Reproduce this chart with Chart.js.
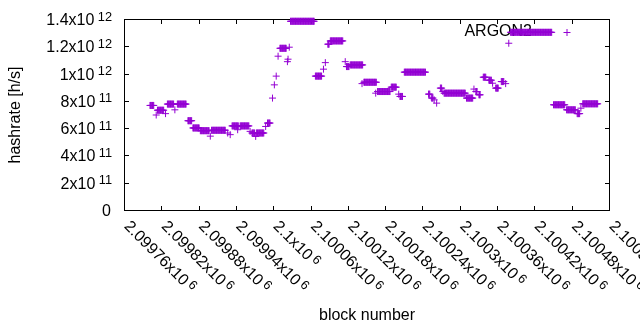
<!DOCTYPE html>
<html>
<head>
<meta charset="utf-8">
<style>
  html, body { margin: 0; padding: 0; background: #fff; }
</style>
<script src="https://cdn.jsdelivr.net/npm/chart.js@4.4.0/dist/chart.umd.min.js"></script>
</head>
<body>
<canvas id="hashChart" width="640" height="330"></canvas>
<script>
// block numbers are stored as offsets from the first x tick
const firstBlock = 2099760;
const blockOffsets = [
  41, 42, 43, 44, 45, 46, 47,
  51,
  53, 54, 55, 56, 57, 58, 59, 60, 61, 62, 63,
  66,
  69, 70, 71, 72, 73, 74, 75, 76, 77, 78, 79,
  81,
  85, 86, 87, 88, 89, 90, 91, 92, 93, 94, 95, 96, 97, 98, 99,
  102, 103, 104, 105, 106, 107, 108,
  110, 111, 112, 113, 114, 115, 116, 117, 118, 119, 120,
  122, 123, 124, 125, 126, 127, 128, 129, 130, 131, 132, 133, 134, 135, 136,
  138,
  140, 141, 142, 143, 144, 145, 146, 147, 148, 149,
  150, 151, 152, 153, 154, 155, 156, 157, 158, 159,
  160, 161, 162,
  166,
  170,
  173, 174, 175, 176, 177, 178, 179, 180, 181, 182, 183,
  182,
  186, 187, 188, 189, 190, 191, 192, 193, 194, 195, 196, 197, 198, 199, 200,
  202,
  205, 206, 207, 208, 209,
  211,
  212, 213, 214, 215, 216, 217, 218, 219, 220, 221, 222, 223, 224,
  227,
  230, 231, 232, 233, 234,
  238, 241, 244, 247,
  250, 251, 252, 253, 254, 255, 256, 257, 258, 259, 260,
  262, 263, 265,
  267, 268, 269, 270, 271, 272, 273, 274, 275, 276,
  277, 278, 279, 280, 281, 282, 283, 284, 285, 286,
  287, 288, 289, 290, 291, 292, 293, 294, 295, 296,
  297, 298, 299, 300, 301, 302, 303, 304, 305,
  307, 308, 309, 310, 311, 312, 313, 314, 315, 316, 317,
  320, 323,
  327, 328, 329,
  331, 332, 333, 334, 335, 336, 337, 338, 339, 340,
  341, 342, 343, 344, 345, 346, 347, 348, 349, 350, 351,
  355,
  357, 358, 359, 360, 361,
  363, 364, 365, 366, 367, 368, 369, 370, 371, 372,
  373, 374, 375, 376, 377, 378, 379, 380, 381, 382, 383,
  382,
  385, 386, 387, 388, 389, 390, 391, 392, 393, 394,
  395, 396, 397, 398, 399, 400, 401, 402, 403, 404, 405,
  404,
  407, 408, 409, 410, 411, 412, 413, 414, 415, 416,
  417, 418, 419, 420, 421, 422, 423, 424, 425, 426, 427,
  429, 430, 431, 432, 433, 434, 435, 436, 437,
  441,
  443, 444, 445, 446, 447,
  450, 451, 452, 453, 454, 455, 456, 457, 458, 459,
  460, 461, 462, 463, 464, 465, 466, 467, 468, 469,
  470, 471, 472, 473, 474, 475, 476, 477, 478, 479,
  480, 481, 482, 483, 484,
  489, 490, 491,
  494, 495, 496,
  498, 502,
  508, 509, 510,
  512,
  514, 515, 516, 517, 518, 519, 520, 521, 522, 523,
  524, 525, 526, 527, 528, 529, 530, 531, 532, 533,
  534, 535, 536, 537, 538, 539, 540, 541, 542, 543,
  544, 545, 546, 547, 548,
  550, 551, 552, 553, 554, 555, 556, 557, 558, 559, 560,
  562,
  565, 566, 567,
  570, 571, 572,
  577, 578, 579, 580, 581,
  586, 587, 588, 589, 590,
  592,
  597, 598, 599, 600, 601,
  606, 607, 608, 609, 610,
  613, 618,
  621, 622, 623, 624, 625, 626, 627, 628, 629, 630,
  631, 632, 633, 634, 635, 636, 637, 638, 639, 640,
  641, 642, 643, 644, 645, 646, 647, 648, 649, 650,
  651, 652, 653, 654, 655, 656, 657, 658, 659, 660,
  661, 662, 663, 664, 665, 666, 667, 668, 669, 670,
  671, 672, 673, 674, 675, 676, 677, 678, 679, 680,
  681, 682, 683, 684, 685, 686, 687,
  690, 691, 692, 693, 694, 695, 696, 697, 698, 699,
  700, 701, 702, 703, 704, 705, 706, 707, 708,
  711, 712, 713, 714, 715, 716, 717, 718, 719, 720,
  721, 722, 723, 724, 725,
  728, 729, 730, 731, 732,
  734,
  737, 738, 739, 740, 741, 742, 743, 744, 745, 746,
  747, 748, 749, 750, 751, 752, 753, 754, 755, 756,
  757, 758, 759, 760, 761
];

// hashrate in units of 1e11 h/s, one per block above
const hashrate11 = [
  7.70, 7.70, 7.70, 7.70, 7.70, 7.70, 7.70,
  7.00,
  7.35, 7.35, 7.35, 7.35, 7.35, 7.35, 7.35, 7.35, 7.35, 7.35, 7.35,
  7.10,
  7.80, 7.80, 7.80, 7.80, 7.80, 7.80, 7.80, 7.80, 7.80, 7.80, 7.80,
  7.38,
  7.80, 7.80, 7.80, 7.80, 7.80, 7.80, 7.80, 7.80, 7.80, 7.80, 7.80, 7.80, 7.80, 7.80, 7.80,
  6.58, 6.58, 6.58, 6.58, 6.58, 6.58, 6.58,
  6.05, 6.05, 6.05, 6.05, 6.05, 6.05, 6.05, 6.05, 6.05, 6.05, 6.05,
  5.85, 5.85, 5.85, 5.85, 5.85, 5.85, 5.85, 5.85, 5.85, 5.85, 5.85, 5.85, 5.85, 5.85, 5.85,
  5.45,
  5.88, 5.88, 5.88, 5.88, 5.88, 5.88, 5.88, 5.88, 5.88, 5.88,
  5.88, 5.88, 5.88, 5.88, 5.88, 5.88, 5.88, 5.88, 5.88, 5.88,
  5.88, 5.88, 5.88,
  5.68,
  5.56,
  6.20, 6.20, 6.20, 6.20, 6.20, 6.20, 6.20, 6.20, 6.20, 6.20, 6.20,
  5.92,
  6.20, 6.20, 6.20, 6.20, 6.20, 6.20, 6.20, 6.20, 6.20, 6.20, 6.20, 6.20, 6.20, 6.20, 6.20,
  5.80,
  5.68, 5.68, 5.68, 5.68, 5.68,
  5.43,
  5.68, 5.68, 5.68, 5.68, 5.68, 5.68, 5.68, 5.68, 5.68, 5.68, 5.68, 5.68, 5.68,
  6.16,
  6.41, 6.41, 6.41, 6.41, 6.41,
  8.24, 9.21, 9.85, 11.31,
  11.89, 11.89, 11.89, 11.89, 11.89, 11.89, 11.89, 11.89, 11.89, 11.89, 11.89,
  10.91, 11.09, 11.97,
  13.87, 13.87, 13.87, 13.87, 13.87, 13.87, 13.87, 13.87, 13.87, 13.87,
  13.87, 13.87, 13.87, 13.87, 13.87, 13.87, 13.87, 13.87, 13.87, 13.87,
  13.87, 13.87, 13.87, 13.87, 13.87, 13.87, 13.87, 13.87, 13.87, 13.87,
  13.87, 13.87, 13.87, 13.87, 13.87, 13.87, 13.87, 13.87, 13.87,
  9.85, 9.85, 9.85, 9.85, 9.85, 9.85, 9.85, 9.85, 9.85, 9.85, 9.85,
  10.36, 10.84,
  12.19, 12.19, 12.19,
  12.43, 12.43, 12.43, 12.43, 12.43, 12.43, 12.43, 12.43, 12.43, 12.43,
  12.43, 12.43, 12.43, 12.43, 12.43, 12.43, 12.43, 12.43, 12.43, 12.43, 12.43,
  10.91,
  10.55, 10.55, 10.55, 10.55, 10.55,
  10.67, 10.67, 10.67, 10.67, 10.67, 10.67, 10.67, 10.67, 10.67, 10.67,
  10.67, 10.67, 10.67, 10.67, 10.67, 10.67, 10.67, 10.67, 10.67, 10.67, 10.67,
  9.30,
  9.40, 9.40, 9.40, 9.40, 9.40, 9.40, 9.40, 9.40, 9.40, 9.40,
  9.40, 9.40, 9.40, 9.40, 9.40, 9.40, 9.40, 9.40, 9.40, 9.40, 9.40,
  8.60,
  8.72, 8.72, 8.72, 8.72, 8.72, 8.72, 8.72, 8.72, 8.72, 8.72,
  8.72, 8.72, 8.72, 8.72, 8.72, 8.72, 8.72, 8.72, 8.72, 8.72, 8.72,
  9.04, 9.04, 9.04, 9.04, 9.04, 9.04, 9.04, 9.04, 9.04,
  8.53,
  8.36, 8.36, 8.36, 8.36, 8.36,
  10.14, 10.14, 10.14, 10.14, 10.14, 10.14, 10.14, 10.14, 10.14, 10.14,
  10.14, 10.14, 10.14, 10.14, 10.14, 10.14, 10.14, 10.14, 10.14, 10.14,
  10.14, 10.14, 10.14, 10.14, 10.14, 10.14, 10.14, 10.14, 10.14, 10.14,
  10.14, 10.14, 10.14, 10.14, 10.14,
  8.53, 8.53, 8.53,
  8.24, 8.24, 8.24,
  8.11, 7.87,
  8.97, 8.97, 8.97,
  8.72,
  8.60, 8.60, 8.60, 8.60, 8.60, 8.60, 8.60, 8.60, 8.60, 8.60,
  8.60, 8.60, 8.60, 8.60, 8.60, 8.60, 8.60, 8.60, 8.60, 8.60,
  8.60, 8.60, 8.60, 8.60, 8.60, 8.60, 8.60, 8.60, 8.60, 8.60,
  8.60, 8.60, 8.60, 8.60, 8.60,
  8.24, 8.24, 8.24, 8.24, 8.24, 8.24, 8.24, 8.24, 8.24, 8.24, 8.24,
  8.90,
  8.72, 8.72, 8.72,
  8.48, 8.48, 8.48,
  9.77, 9.77, 9.77, 9.77, 9.77,
  9.55, 9.55, 9.55, 9.55, 9.55,
  9.33,
  8.97, 8.97, 8.97, 8.97, 8.97,
  9.45, 9.45, 9.45, 9.45, 9.45,
  9.30, 12.26,
  13.06, 13.06, 13.06, 13.06, 13.06, 13.06, 13.06, 13.06, 13.06, 13.06,
  13.06, 13.06, 13.06, 13.06, 13.06, 13.06, 13.06, 13.06, 13.06, 13.06,
  13.06, 13.06, 13.06, 13.06, 13.06, 13.06, 13.06, 13.06, 13.06, 13.06,
  13.06, 13.06, 13.06, 13.06, 13.06, 13.06, 13.06, 13.06, 13.06, 13.06,
  13.06, 13.06, 13.06, 13.06, 13.06, 13.06, 13.06, 13.06, 13.06, 13.06,
  13.06, 13.06, 13.06, 13.06, 13.06, 13.06, 13.06, 13.06, 13.06, 13.06,
  13.06, 13.06, 13.06, 13.06, 13.06, 13.06, 13.06,
  7.75, 7.75, 7.75, 7.75, 7.75, 7.75, 7.75, 7.75, 7.75, 7.75,
  7.75, 7.75, 7.75, 7.75, 7.75, 7.75, 7.75, 7.75, 7.75,
  7.38, 7.38, 7.38, 7.38, 7.38, 7.38, 7.38, 7.38, 7.38, 7.38,
  7.38, 7.38, 7.38, 7.38, 7.38,
  7.10, 7.10, 7.10, 7.10, 7.10,
  7.50,
  7.82, 7.82, 7.82, 7.82, 7.82, 7.82, 7.82, 7.82, 7.82, 7.82,
  7.82, 7.82, 7.82, 7.82, 7.82, 7.82, 7.82, 7.82, 7.82, 7.82,
  7.82, 7.82, 7.82, 7.82, 7.82
];

// x ticks every 60 blocks, labels written as mantissa x10^6
const xTickValues = [2099760, 2099820, 2099880, 2099940, 2100000, 2100060, 2100120,
  2100180, 2100240, 2100300, 2100360, 2100420, 2100480, 2100540];
const xTickMantissas = ['2.09976', '2.09982', '2.09988', '2.09994', '2.1', '2.10006', '2.10012',
  '2.10018', '2.10024', '2.1003', '2.10036', '2.10042', '2.10048', '2.10054'];

const yTickValues = [0, 2e11, 4e11, 6e11, 8e11, 1e12, 1.2e12, 1.4e12];
const yTickMantissas = ['0', '2', '4', '6', '8', '1', '1.2', '1.4'];
const yTickExponents = ['', '11', '11', '11', '11', '12', '12', '12'];

const seriesName = 'ARGON2';
const purple = '#9400d3';
const FONT = '"Liberation Sans", Arial, sans-serif';
const big = '16px ' + FONT;
const small = '12.8px ' + FONT;

const points = blockOffsets.map((off, i) => ({ x: firstBlock + off, y: hashrate11[i] * 1e11 }));

// border, inward ticks, tick labels, axis titles and key, drawn gnuplot style
const gnuplotFrame = {
  id: 'gnuplotFrame',
  beforeDatasetsDraw(chart) {
    const { ctx, chartArea: a, scales: { x, y } } = chart;
    const snap = v => Math.round(v - 0.5) + 0.5;
    const tick = 4.5;
    ctx.save();
    ctx.strokeStyle = '#000';
    ctx.fillStyle = '#000';
    ctx.lineWidth = 1;
    ctx.strokeRect(a.left, a.top, a.right - a.left, a.bottom - a.top);

    ctx.beginPath();
    yTickValues.forEach(v => {
      const py = snap(y.getPixelForValue(v));
      ctx.moveTo(a.left, py); ctx.lineTo(a.left + tick, py);
      ctx.moveTo(a.right, py); ctx.lineTo(a.right - tick, py);
    });
    xTickValues.forEach(v => {
      const px = snap(x.getPixelForValue(v));
      ctx.moveTo(px, a.bottom); ctx.lineTo(px, a.bottom - tick);
      ctx.moveTo(px, a.top); ctx.lineTo(px, a.top + tick);
    });
    ctx.stroke();

    // y tick labels
    const yRight = 112;
    yTickValues.forEach((v, i) => {
      const py = y.getPixelForValue(v);
      ctx.textBaseline = 'alphabetic';
      const exp = yTickExponents[i];
      if (!exp) {
        ctx.font = big; ctx.textAlign = 'right';
        ctx.fillText(yTickMantissas[i], yRight - 1, py + 5.5);
        return;
      }
      ctx.font = small;
      const ew = ctx.measureText(exp).width;
      ctx.textAlign = 'left';
      ctx.fillText(exp, yRight - ew, py + 1);
      ctx.font = big; ctx.textAlign = 'right';
      ctx.fillText(yTickMantissas[i] + 'x10', yRight - ew - 3.4, py + 5.5);
    });

    // x tick labels, rotated 45 degrees down to the right
    xTickValues.forEach((v, i) => {
      const px = x.getPixelForValue(v);
      ctx.save();
      ctx.translate(px + 2, a.bottom + 13.5);
      ctx.rotate(Math.PI / 4);
      ctx.textAlign = 'left';
      ctx.textBaseline = 'middle';
      ctx.font = big;
      const txt = xTickMantissas[i] + 'x10';
      ctx.fillText(txt, 0, 0);
      const w = ctx.measureText(txt).width;
      ctx.font = small;
      ctx.fillText('6', w + 3, -3.2);
      ctx.restore();
    });

    // axis titles
    ctx.font = big;
    ctx.textAlign = 'center';
    ctx.textBaseline = 'middle';
    ctx.fillText('block number', (a.left + a.right) / 2, 316);
    ctx.save();
    ctx.translate(16, (a.top + a.bottom) / 2);
    ctx.rotate(-Math.PI / 2);
    ctx.fillText('hashrate [h/s]', 0, 0);
    ctx.restore();

    // key: title plus a sample point
    ctx.textAlign = 'right';
    ctx.fillText(seriesName, 532, 32);
    ctx.strokeStyle = purple;
    ctx.beginPath();
    ctx.moveTo(563.5, 32.5); ctx.lineTo(570.5, 32.5);
    ctx.moveTo(567, 29); ctx.lineTo(567, 36);
    ctx.stroke();
    ctx.restore();
  }
};

new Chart(document.getElementById('hashChart'), {
  type: 'scatter',
  data: {
    datasets: [{
      label: seriesName,
      data: points,
      borderColor: purple,
      backgroundColor: purple,
      pointStyle: 'cross',
      pointRadius: 3.5,
      pointHoverRadius: 3.5,
      pointBorderWidth: 1,
      showLine: false,
      clip: false
    }]
  },
  options: {
    responsive: false,
    animation: false,
    events: [],
    layout: { padding: { left: 124.5, right: 30.5, top: 19.5, bottom: 119.5 } },
    plugins: { legend: { display: false }, tooltip: { enabled: false } },
    scales: {
      x: { type: 'linear', display: false, min: xTickValues[0], max: xTickValues[xTickValues.length - 1] },
      y: { type: 'linear', display: false, min: 0, max: 1.4e12 }
    }
  },
  plugins: [gnuplotFrame]
});
</script>
</body>
</html>
